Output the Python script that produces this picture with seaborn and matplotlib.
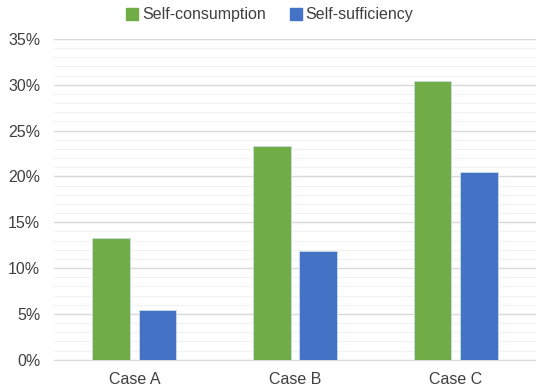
import numpy as np
import pandas as pd
import matplotlib
matplotlib.use("Agg")
import matplotlib.pyplot as plt
from matplotlib.ticker import MultipleLocator, PercentFormatter
import seaborn as sns

cases = ["Case A", "Case B", "Case C"]
self_consumption = [13.3, 23.3, 30.4]
self_sufficiency = [5.4, 11.9, 20.5]
series = ["Self-consumption", "Self-sufficiency"]
colors = ["#70AD47", "#4472C4"]

df = pd.DataFrame({
    "case": cases * 2,
    "metric": [series[0]] * 3 + [series[1]] * 3,
    "value": self_consumption + self_sufficiency,
})

sns.set_style("white")
plt.rcParams["font.family"] = ["Liberation Sans", "DejaVu Sans"]

fig = plt.figure(figsize=(5.36, 3.89), dpi=100)
ax = fig.add_axes([0.101, 0.075, 0.899, 0.825])

sns.barplot(data=df, x="case", y="value", hue="metric", palette=colors,
            saturation=1, width=0.578, gap=0.19, ax=ax, edgecolor="#C9DCE8",
            linewidth=0.6, zorder=3, legend=False)

ax.set_ylim(0, 35)
ax.set_xlim(-0.5, 2.5)
ax.yaxis.set_major_locator(MultipleLocator(5))
ax.yaxis.set_minor_locator(MultipleLocator(1))
ax.yaxis.set_major_formatter(PercentFormatter(decimals=0))
ax.grid(axis="y", which="major", color="#D9D9D9", linewidth=1.0, zorder=0)
ax.grid(axis="y", which="minor", color="#F2F2F2", linewidth=0.8, zorder=0)
ax.set_axisbelow(True)
for s in ["top", "right", "left"]:
    ax.spines[s].set_visible(False)
ax.spines["bottom"].set_color("#D9D9D9")
ax.tick_params(axis="both", which="both", length=0, labelsize=11.5,
               colors="#404040")
ax.tick_params(axis="x", pad=9)
ax.tick_params(axis="y", pad=10)
ax.set_xlabel("")
ax.set_ylabel("")

handles = [plt.Rectangle((0, 0), 1, 1, color=c) for c in colors]
fig.legend(handles, series, loc="center", bbox_to_anchor=(0.503, 0.962),
           ncol=2, frameon=False, fontsize=11.5, handlelength=0.75,
           handleheight=0.75, handletextpad=0.25, columnspacing=1.5,
           labelcolor="#404040")

fig.savefig("out.png", dpi=100)
